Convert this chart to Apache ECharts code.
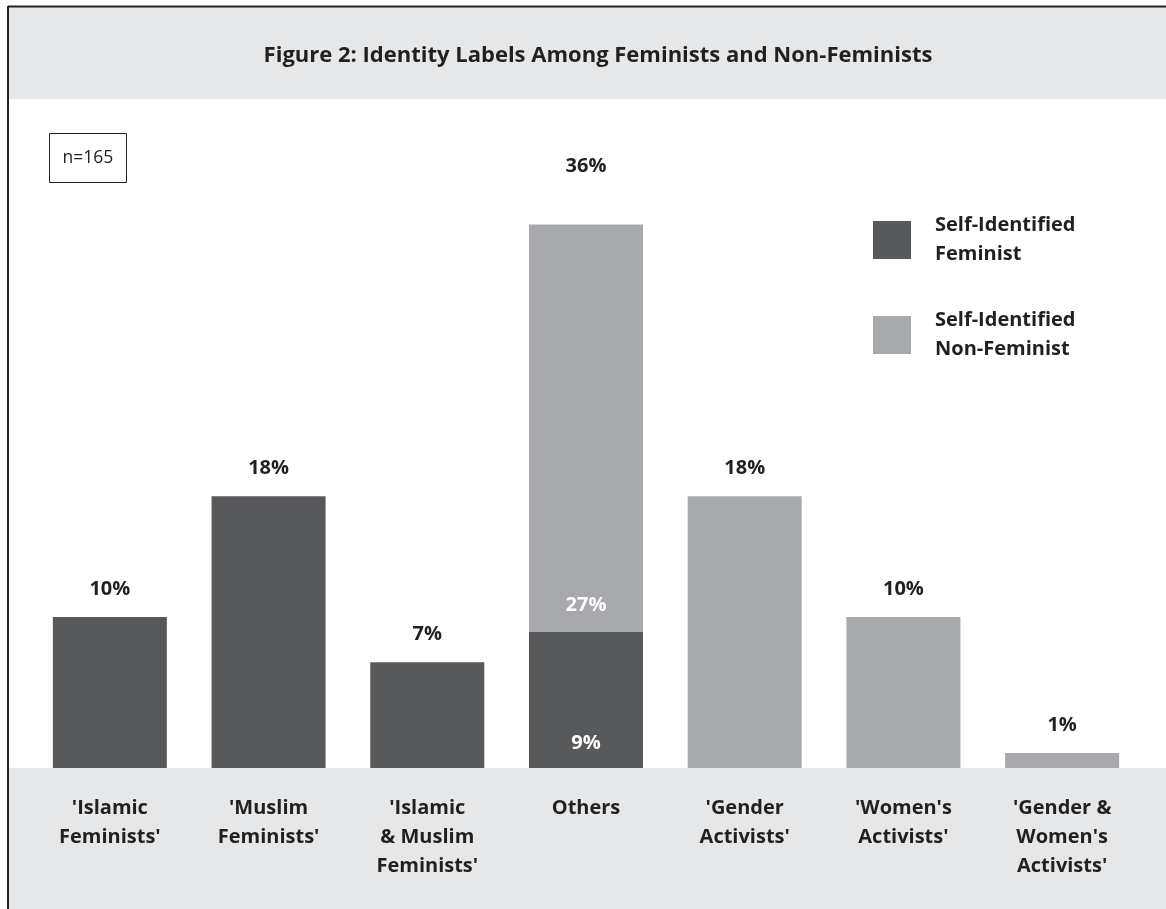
<!DOCTYPE html>
<html><head><meta charset="utf-8">
<script src="https://cdn.jsdelivr.net/npm/echarts@6/dist/echarts.min.js"></script>
<style>html,body{margin:0;padding:0;background:#fff}#c{width:1166px;height:909px}</style>
</head><body><div id="c"></div>
<script>
const categories = ["'Islamic\nFeminists'", "'Muslim\nFeminists'", "'Islamic\n& Muslim\nFeminists'", "Others", "'Gender\nActivists'", "'Women's\nActivists'", "'Gender &\nWomen's\nActivists'"];
const feminist = [10, 18, 7, 9, null, null, null];
const nonFeminist = [null, null, null, 27, 18, 10, 1];
const othersTotal = [null, null, null, 36, null, null, null];
const titleText = 'Figure 2: Identity Labels Among Feminists and Non-Feminists';
const noteText = 'n=165';

const FONT = 'Open Sans';
const DARK = '#58595b', LIGHT = '#a7a9ac', BAND = '#e6e7e8', INK = '#231f20';
const FS = 20;

function topLabel() { return {show: true, position: 'top', distance: 18, formatter: p => p.value + '%', color: INK, fontFamily: FONT, fontWeight: 'bold', fontSize: FS}; }
function inLabel(d) { return {show: true, position: 'insideBottom', distance: d, formatter: p => p.value + '%', color: '#fff', fontFamily: FONT, fontWeight: 'bold', fontSize: FS}; }

const femData = feminist.map((v, i) => v == null ? '-' : {value: v, label: i === 3 ? inLabel(14.5) : topLabel()});
const nonData = nonFeminist.map((v, i) => v == null ? '-' : {value: v, label: i === 3 ? inLabel(16.5) : topLabel()});

const chart = echarts.init(document.getElementById('c'));
chart.setOption({
  animation: false,
  backgroundColor: '#fff',
  graphic: [
    {type: 'rect', z: -10, shape: {x: 8, y: 7, width: 1158, height: 92}, style: {fill: BAND}},
    {type: 'rect', z: -10, shape: {x: 8, y: 768, width: 1158, height: 141}, style: {fill: BAND}},
    {type: 'line', z: 10, shape: {x1: 8, y1: 6.5, x2: 1166, y2: 6.5}, style: {stroke: INK, lineWidth: 2}},
    {type: 'line', z: 10, shape: {x1: 8, y1: 6, x2: 8, y2: 909}, style: {stroke: INK, lineWidth: 2}},
    {type: 'text', x: 598, y: 56, style: {text: titleText, font: 'bold 22px "' + FONT + '"', fill: INK, textAlign: 'center', textVerticalAlign: 'middle'}},
    {type: 'rect', shape: {x: 49.5, y: 133.5, width: 77, height: 49}, style: {fill: '#fff', stroke: INK, lineWidth: 1}},
    {type: 'text', x: 88, y: 158, style: {text: noteText, font: '17.5px "' + FONT + '"', fill: INK, textAlign: 'center', textVerticalAlign: 'middle'}}
  ],
  legend: {
    orient: 'vertical', left: 868, top: 203, itemWidth: 38, itemHeight: 38, itemGap: 31,
    icon: 'rect',
    textStyle: {fontFamily: FONT, fontWeight: 'bold', fontSize: FS, color: INK, lineHeight: 29, padding: [6, 0, 0, 19]},
    data: ['Self-Identified\nFeminist', 'Self-Identified\nNon-Feminist']
  },
  grid: {left: 30.5, right: 24.5, top: 164, bottom: 141},
  xAxis: {
    type: 'category', data: categories,
    axisLine: {show: false}, axisTick: {show: false},
    axisLabel: {margin: 26, interval: 0, color: INK, fontFamily: FONT, fontWeight: 'bold', fontSize: FS, lineHeight: 29, verticalAlign: 'top'}
  },
  yAxis: {type: 'value', min: 0, max: 40, show: false, splitLine: {show: false}},
  series: [
    {name: 'Self-Identified\nFeminist', type: 'bar', stack: 's', barWidth: 114, itemStyle: {color: DARK}, data: femData},
    {name: 'Self-Identified\nNon-Feminist', type: 'bar', stack: 's', barWidth: 114, itemStyle: {color: LIGHT}, data: nonData},
    {type: 'scatter', symbolSize: 0, silent: true, itemStyle: {opacity: 1}, data: othersTotal.map(v => v == null ? '-' : v),
     label: {show: true, position: 'top', distance: 48, formatter: p => p.value + '%', color: INK, fontFamily: FONT, fontWeight: 'bold', fontSize: FS}}
  ]
});
</script>
</body></html>
